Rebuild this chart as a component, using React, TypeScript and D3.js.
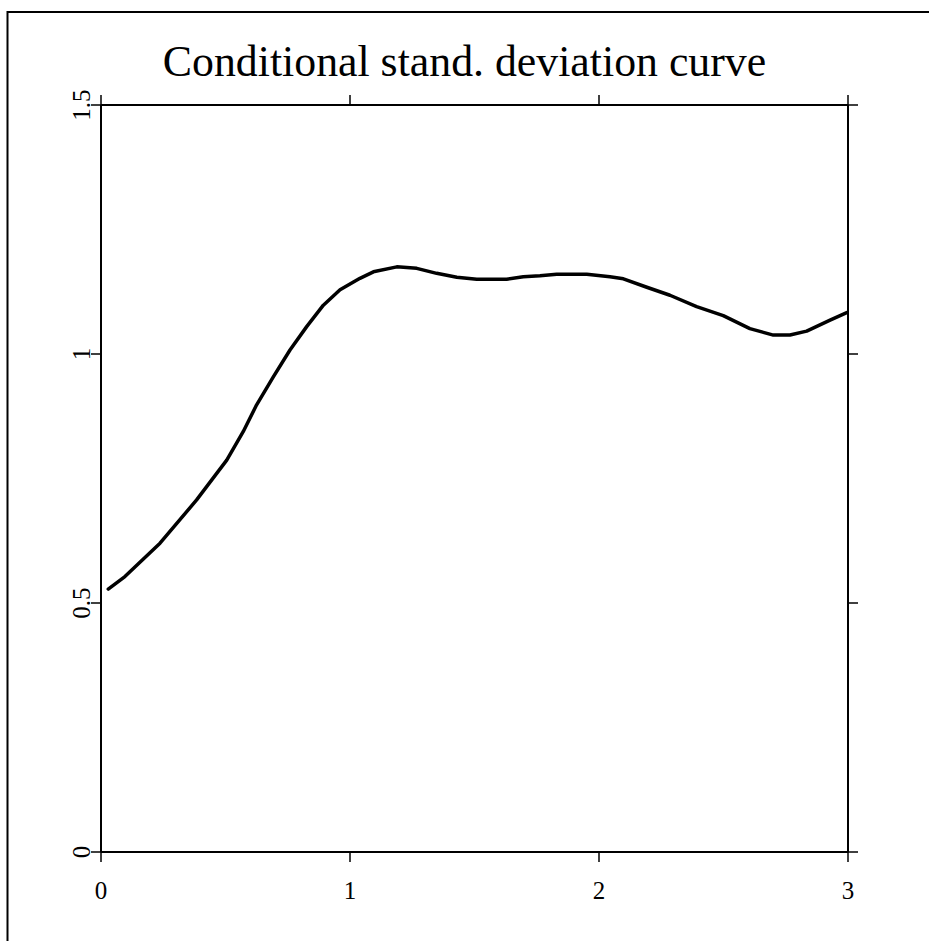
import React from "react";
import * as d3 from "d3";

const xValues = [0.029, 0.096, 0.237, 0.384, 0.505, 0.571, 0.625, 0.692, 0.759, 0.826, 0.893, 0.96, 1.04, 1.094, 1.188, 1.268, 1.348, 1.429, 1.509, 1.629, 1.696, 1.763, 1.83, 1.951, 2.044, 2.098, 2.192, 2.285, 2.392, 2.499, 2.606, 2.7, 2.767, 2.834, 2.928, 2.995];
const yValues = [0.528, 0.553, 0.62, 0.707, 0.787, 0.844, 0.898, 0.954, 1.008, 1.055, 1.098, 1.129, 1.152, 1.165, 1.175, 1.172, 1.162, 1.154, 1.15, 1.15, 1.155, 1.157, 1.16, 1.16, 1.155, 1.151, 1.134, 1.118, 1.095, 1.077, 1.051, 1.038, 1.038, 1.046, 1.068, 1.083];
const xTicks = [0, 1, 2, 3];
const yTicks = [0, 0.5, 1, 1.5];
const xTickLabels = ["0", "1", "2", "3"];
const yTickLabels = ["0", "0.5", "1", "1.5"];
const title = "Conditional stand. deviation curve";

export default function App() {
  const W = 929, H = 941;
  const x = d3.scaleLinear().domain([0, 3]).range([101, 848]);
  const y = d3.scaleLinear().domain([0, 1.5]).range([852, 105]);
  const pts: [number, number][] = xValues.map((v, i) => [v, yValues[i]]);
  const line = d3.line<[number, number]>().x(d => x(d[0])).y(d => y(d[1])).curve(d3.curveLinear);
  const font = "'Liberation Serif', 'Times New Roman', serif";
  const tl = 10;
  return (
    <svg width={W} height={H} style={{ position: "absolute", left: 0, top: 0, background: "#fff" }}>
      <rect x={7.5} y={12} width={940} height={940} fill="#fff" stroke="#000" strokeWidth={2} />
      <text x={464.5} y={76} textAnchor="middle" fontFamily={font} fontSize={43.8}>{title}</text>
      <g stroke="#000" strokeWidth={2} fill="none">
        <line x1={x(0)} x2={x(3)} y1={y(0)} y2={y(0)} />
        <line x1={x(0)} x2={x(3)} y1={y(1.5)} y2={y(1.5)} />
        <line x1={x(0)} x2={x(0)} y1={y(0)} y2={y(1.5)} />
        <line x1={x(3)} x2={x(3)} y1={y(0)} y2={y(1.5)} />
      </g>
      <g stroke="#000" strokeWidth={1.5}>
        {xTicks.map(t => (
          <g key={"xt" + t}>
            <line x1={x(t)} x2={x(t)} y1={y(0)} y2={y(0) + tl} />
            <line x1={x(t)} x2={x(t)} y1={y(1.5)} y2={y(1.5) - tl} />
          </g>
        ))}
        {yTicks.map(t => (
          <g key={"yt" + t}>
            <line x1={x(0)} x2={x(0) - tl} y1={y(t)} y2={y(t)} />
            <line x1={x(3)} x2={x(3) + tl} y1={y(t)} y2={y(t)} />
          </g>
        ))}
      </g>
      <g fontFamily={font} fontSize={25} fill="#000">
        {xTicks.map((t, i) => (
          <text key={"xl" + t} x={x(t)} y={899} textAnchor="middle">{xTickLabels[i]}</text>
        ))}
        {yTicks.map((t, i) => (
          <text key={"yl" + t} transform={`translate(90,${y(t)}) rotate(-90)`} textAnchor="middle">{yTickLabels[i]}</text>
        ))}
      </g>
      <path d={line(pts) || ""} fill="none" stroke="#000" strokeWidth={3.5} strokeLinejoin="round" strokeLinecap="round" />
    </svg>
  );
}
